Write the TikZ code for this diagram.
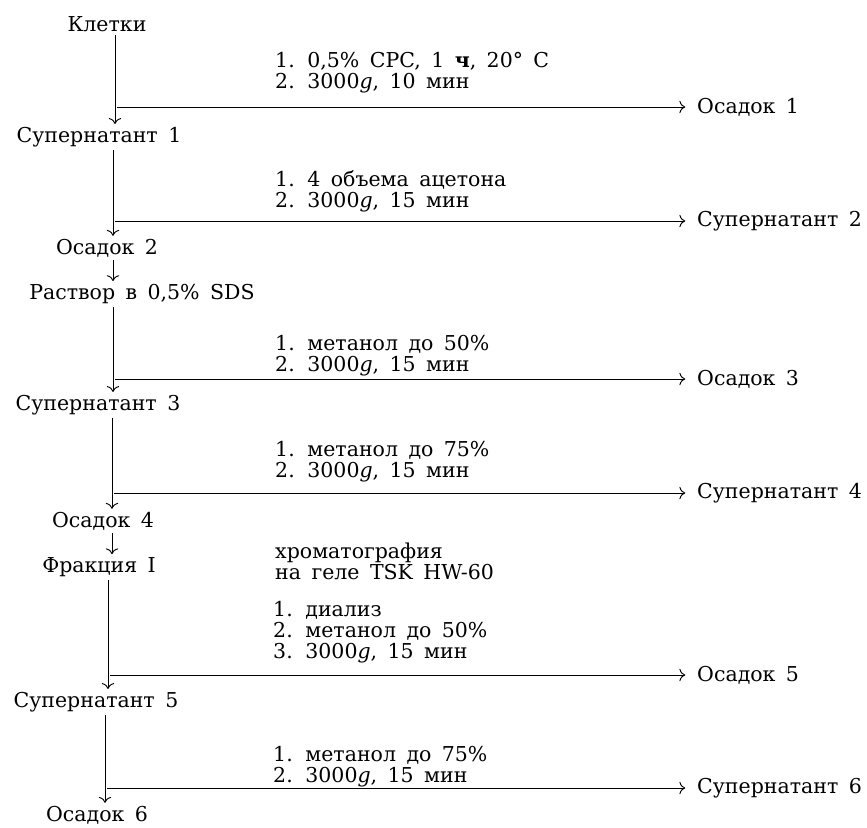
\documentclass[tikz,border=0pt]{standalone}
\usepackage{fontspec}
\setmainfont{DejaVu Serif}[WordSpace=1.6]
\usetikzlibrary{arrows.meta}

\begin{document}
\begin{tikzpicture}[x=0.03cm, y=-0.03cm,
    every node/.style={font=\fontsize{17.5}{18}\selectfont, inner sep=0pt},
    prod/.style={inner sep=2.5pt},
    cond/.style={anchor=west, align=left},
    res/.style={anchor=west},
    flow/.style={-{To[length=5pt]}, line width=0.8pt},
    branch/.style={-{To[length=5pt]}, line width=0.8pt, shorten <=2pt, shorten >=10pt}]
    \useasboundingbox (0,0) rectangle (867,827);

    % main column
    \node[prod] (kletki) at (107,24) {Клетки};
    \node[prod] (sup1) at (99,137) {Супернатант 1};
    \node[prod] (os2) at (107,248) {Осадок 2};
    \node[prod] (rastvor) at (142,294) {Раствор в 0,5\% SDS};
    \node[prod] (sup3) at (98,405) {Супернатант 3};
    \node[prod] (os4) at (103,521) {Осадок 4};
    \node[prod] (frak) at (99,567) {Фракция I};
    \node[prod] (sup5) at (96,702) {Супернатант 5};
    \node[prod] (os6) at (97,815) {Осадок 6};

    % conditions
    \node[cond] (c1) at (275,73) {1. 0,5\% CPC, 1 \textbf{ч}, 20° C\\2. 3000\textit{g}, 10 мин};
    \node[cond] (c2) at (275,191) {1. 4 объема ацетона\\2. 3000\textit{g}, 15 мин};
    \node[cond] (c3) at (275,356) {1. метанол до 50\%\\2. 3000\textit{g}, 15 мин};
    \node[cond] (c4) at (275,462) {1. метанол до 75\%\\2. 3000\textit{g}, 15 мин};
    \node[cond] (chrom) at (275,561) {хроматография\\на геле TSK HW-60};
    \node[cond] (c5) at (273,632) {1. диализ\\2. метанол до 50\%\\3. 3000\textit{g}, 15 мин};
    \node[cond] (c6) at (273,767) {1. метанол до 75\%\\2. 3000\textit{g}, 15 мин};

    % side products
    \foreach \n/\x/\y/\txt in {1/115/107/Осадок 1, 2/113/221/Супернатант 2,
                               3/113/379/Осадок 3, 4/112/493/Супернатант 4,
                               5/108/675/Осадок 5, 6/105/788/Супернатант 6} {
        \coordinate (j\n) at (\x,\y);
        \node[res] (r\n) at (697,\y) {\txt};
        \draw[branch] (j\n) -- (r\n);
    }

    \draw[flow] (kletki.south -| j1) -- (sup1.north -| j1);
    \draw[flow] (sup1.south -| j2) -- (os2.north -| j2);
    \draw[flow] (os2.south -| j2) -- (rastvor.north -| j2);
    \draw[flow] (rastvor.south -| j3) -- (sup3.north -| j3);
    \draw[flow] (sup3.south -| j4) -- (os4.north -| j4);
    \draw[flow] (os4.south -| j4) -- (frak.north -| j4);
    \draw[flow] (frak.south -| j5) -- (sup5.north -| j5);
    \draw[flow] (sup5.south -| j6) -- (os6.north -| j6);
\end{tikzpicture}
\end{document}
